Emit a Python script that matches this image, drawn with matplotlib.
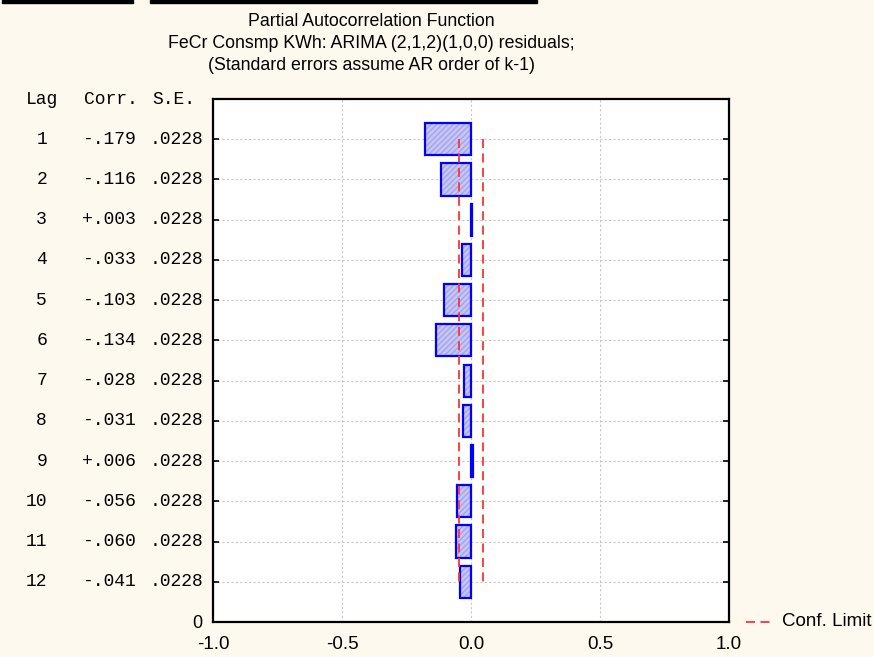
import numpy as np
import matplotlib
matplotlib.use('Agg')
import matplotlib.pyplot as plt
from matplotlib.lines import Line2D
from matplotlib.patches import Rectangle

# ---------------- data ----------------
lags = np.arange(1, 13)
corr = np.array([-.179, -.116, .003, -.033, -.103, -.134, -.028, -.031, .006, -.056, -.060, -.041])
se = np.array([.0228] * 12)
corr_txt = ['-.179', '-.116', '+.003', '-.033', '-.103', '-.134', '-.028', '-.031', '+.006', '-.056', '-.060', '-.041']
se_txt = ['.0228'] * 12
title_lines = ['Partial Autocorrelation Function',
               'FeCr Consmp KWh: ARIMA (2,1,2)(1,0,0) residuals;',
               '(Standard errors assume AR order of k-1)']
xticks = [-1.0, -0.5, 0.0, 0.5, 1.0]

BG = '#fdf9ee'
W, H = 874, 657
fig = plt.figure(figsize=(W / 100, H / 100), dpi=100, facecolor=BG)
ax = fig.add_axes([213 / W, 1 - 622 / H, (729 - 213) / W, (622 - 99) / H])
ax.set_facecolor('white')

ypos = 13 - lags
conf = 1.96 * se

ax.barh(ypos, corr, height=0.8, left=0, color='#c6c6f4', edgecolor='#a4a4ec',
        hatch='//////', lw=0, zorder=2)
ax.barh(ypos, corr, height=0.8, left=0, fill=False, edgecolor='#0000ff', lw=1.6, zorder=3)
ax.plot(conf, ypos, color='#ff3333', lw=1.3, dashes=(5, 3), zorder=4)
ax.plot(-conf, ypos, color='#ff3333', lw=1.3, dashes=(5, 3), zorder=4)

ax.set_xlim(-1, 1)
ax.set_ylim(0, 13)
ax.set_xticks(xticks)
ax.set_xticklabels([f'{v:.1f}' for v in xticks], family='Liberation Sans', fontsize=13.5)
ax.set_yticks(np.arange(0, 13))
ax.set_yticklabels(['0'] + [''] * 12, family='Liberation Sans', fontsize=13)
ax.tick_params(axis='y', direction='in', length=4, left=True, right=True, width=1.2, pad=8)
ax.tick_params(axis='x', length=0, pad=10)
ax.grid(True, color='#c8c8c8', ls=(0, (2, 2)), lw=0.8, zorder=0)
for s in ax.spines.values():
    s.set_linewidth(1.6)
    s.set_color('black')

# row labels
mono = dict(family='Liberation Mono', fontsize=13, va='center')
for y, lg, c, s in zip(ypos, lags, corr_txt, se_txt):
    yf = ax.transData.transform((0, y))[1] / H
    fig.text(47 / W, yf, str(lg), ha='right', **mono)
    fig.text(136 / W, yf, c, ha='right', **mono)
    fig.text(203 / W, yf, s, ha='right', **mono)
hy = 1 - 100 / H
fig.text(42 / W, hy, 'Lag', ha='center', **mono)
fig.text(111 / W, hy, 'Corr.', ha='center', **mono)
fig.text(174 / W, hy, 'S.E.', ha='center', **mono)

for i, t in enumerate(title_lines):
    fig.text(371 / W, 1 - (22 + 22 * i) / H, t, ha='center', va='center',
             family='Liberation Sans', fontsize=12.8)

# legend
ly = 1 - 622 / H
fig.add_artist(Line2D([746 / W, 774 / W], [ly, ly], color='#ff3333', lw=1.3, dashes=(5, 3)))
fig.text(782 / W, ly, 'Conf. Limit', ha='left', va='center', family='Liberation Sans', fontsize=13.5)

# black strips along the top edge
fig.add_artist(Rectangle((2 / W, 1 - 3 / H), 131 / W, 3 / H, color='black', transform=fig.transFigure))
fig.add_artist(Rectangle((150 / W, 1 - 3 / H), 387 / W, 3 / H, color='black', transform=fig.transFigure))

fig.savefig('out.png', dpi=100, facecolor=BG)
